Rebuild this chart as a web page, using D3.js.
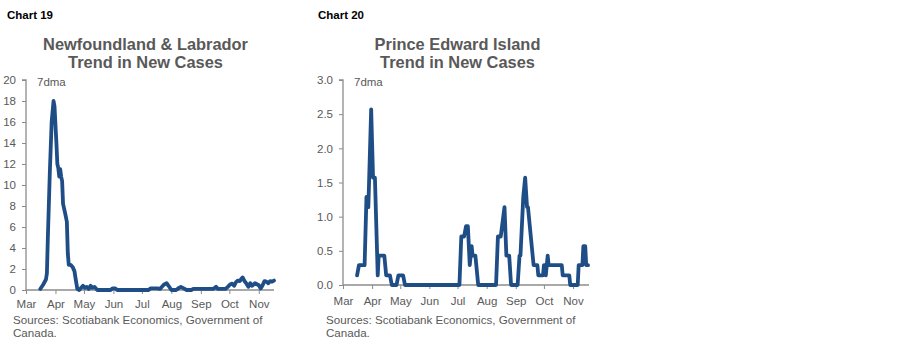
<!DOCTYPE html>
<html>
<head>
<meta charset="utf-8">
<script src="https://cdn.jsdelivr.net/npm/d3@7/dist/d3.min.js"></script>
<style>
  html, body { margin: 0; padding: 0; background: #fff; }
  svg { display: block; font-family: "Liberation Sans", Arial, sans-serif; }
</style>
</head>
<body>
<svg id="chart" width="900" height="348"></svg>
<script>
// ---------- DATA ----------
const monthLabels = ["Mar", "Apr", "May", "Jun", "Jul", "Aug", "Sep", "Oct", "Nov"];
const monthStarts = ["2020-03-01", "2020-04-01", "2020-05-01", "2020-06-01", "2020-07-01",
                     "2020-08-01", "2020-09-01", "2020-10-01", "2020-11-01"];

const nlYTicks = [0, 2, 4, 6, 8, 10, 12, 14, 16, 18, 20];
const peiYTicks = [0, 0.5, 1.0, 1.5, 2.0, 2.5, 3.0];

// Newfoundland & Labrador, 7-day moving average of new cases
const nlDates = [
  "2020-03-16","2020-03-19","2020-03-22","2020-03-23","2020-03-24","2020-03-26","2020-03-28",
  "2020-03-30","2020-03-31","2020-04-02","2020-04-03","2020-04-04","2020-04-05","2020-04-06",
  "2020-04-07","2020-04-08","2020-04-09","2020-04-10","2020-04-11","2020-04-13","2020-04-14",
  "2020-04-15","2020-04-17","2020-04-19","2020-04-21","2020-04-22","2020-04-24","2020-04-26",
  "2020-04-30","2020-05-02","2020-05-04","2020-05-06","2020-05-08","2020-05-10","2020-05-12",
  "2020-05-15","2020-05-29","2020-05-31","2020-06-03","2020-06-05","2020-07-08","2020-07-10",
  "2020-07-17","2020-07-20","2020-07-24","2020-07-27","2020-07-29","2020-08-01","2020-08-06",
  "2020-08-09","2020-08-11","2020-08-14","2020-08-17","2020-08-22","2020-08-24","2020-09-14",
  "2020-09-17","2020-09-19","2020-09-27","2020-09-30","2020-10-02","2020-10-04","2020-10-06",
  "2020-10-08","2020-10-10","2020-10-12","2020-10-14","2020-10-15","2020-10-17","2020-10-19",
  "2020-10-21","2020-10-23","2020-10-25","2020-10-28","2020-10-30","2020-11-01","2020-11-03",
  "2020-11-05","2020-11-07","2020-11-09","2020-11-11","2020-11-13","2020-11-15","2020-11-17"
];
const nlValues = [
  0.1, 0.5, 1.0, 1.6, 5.0, 11.0, 16.0,
  18.0, 17.5, 14.0, 12.0, 11.6, 10.8, 11.5,
  10.8, 10.4, 8.2, 7.8, 7.4, 6.5, 3.5,
  2.4, 2.4, 2.2, 1.8, 1.2, 0.1, 0.0,
  0.4, 0.2, 0.3, 0.1, 0.4, 0.2, 0.3,
  0.0, 0.0, 0.15, 0.15, 0.0, 0.0, 0.15,
  0.15, 0.1, 0.5, 0.65, 0.4, 0.0, 0.0,
  0.2, 0.3, 0.15, 0.0, 0.0, 0.1, 0.1,
  0.3, 0.1, 0.1, 0.35, 0.55, 0.6, 0.4,
  0.75, 0.9, 0.85, 1.1, 1.2, 0.85, 0.6,
  0.3, 0.65, 0.4, 0.65, 0.55, 0.45, 0.15,
  0.45, 0.85, 0.8, 0.65, 0.85, 0.8, 0.9
];

// Prince Edward Island, 7-day moving average of new cases
const peiDates = [
  "2020-03-16","2020-03-18","2020-03-24","2020-03-26","2020-03-27","2020-03-28","2020-03-31",
  "2020-04-02","2020-04-04","2020-04-07","2020-04-08","2020-04-14","2020-04-16","2020-04-20",
  "2020-04-22","2020-04-27","2020-04-29","2020-05-04","2020-05-06","2020-07-03","2020-07-05",
  "2020-07-08","2020-07-10","2020-07-12","2020-07-14","2020-07-16","2020-07-17","2020-07-20",
  "2020-07-23","2020-08-11","2020-08-13","2020-08-16","2020-08-20","2020-08-22","2020-08-25",
  "2020-08-27","2020-09-03","2020-09-05","2020-09-06","2020-09-09","2020-09-11","2020-09-13",
  "2020-09-14","2020-09-18","2020-09-19","2020-09-20","2020-09-24","2020-09-25","2020-09-30",
  "2020-10-01","2020-10-02","2020-10-03","2020-10-05","2020-10-06","2020-10-20","2020-10-21",
  "2020-10-28","2020-10-29","2020-11-06","2020-11-07","2020-11-11","2020-11-12","2020-11-14",
  "2020-11-15","2020-11-17"
];
const peiValues = [
  0.14, 0.29, 0.29, 1.29, 1.14, 1.14, 2.57,
  1.57, 1.57, 0.14, 0.43, 0.43, 0.14, 0.14,
  0.0, 0.0, 0.14, 0.14, 0.0, 0.0, 0.71,
  0.71, 0.86, 0.86, 0.29, 0.57, 0.43, 0.43,
  0.0, 0.0, 0.71, 0.71, 1.14, 0.43, 0.43,
  0.0, 0.0, 0.43, 0.43, 1.29, 1.57, 1.14,
  1.14, 0.57, 0.43, 0.29, 0.29, 0.14, 0.14,
  0.29, 0.29, 0.14, 0.43, 0.29, 0.29, 0.14,
  0.14, 0.0, 0.0, 0.29, 0.29, 0.57, 0.57,
  0.29, 0.29
];

// ---------- DRAW ----------
const parse = d3.utcParse("%Y-%m-%d");
const svg = d3.select("#chart");
const LINE = "#1f4e87";
const GREY = "#595959";
const AXIS = "#8c8c8c";

function drawChart(cfg) {
  const g = svg.append("g");
  const x = d3.scaleUtc().domain([parse("2020-03-01"), parse(cfg.endDate)]).range([cfg.left, cfg.right]);
  const y = d3.scaleLinear().domain([0, cfg.yMax]).range([cfg.bottom, cfg.top]);

  // chart label
  g.append("text").attr("x", cfg.labelX).attr("y", 19)
    .attr("font-size", "11.5px").attr("font-weight", "bold").attr("fill", "#000")
    .text(cfg.label);

  // title
  cfg.title.forEach((t, i) => {
    g.append("text").attr("x", cfg.titleX).attr("y", 50 + i * 18)
      .attr("text-anchor", "middle").attr("font-size", "16.4px").attr("font-weight", "bold")
      .attr("fill", GREY).text(t);
  });

  // y axis
  const yAxis = d3.axisLeft(y).tickValues(cfg.yTicks).tickSize(4).tickPadding(6)
    .tickFormat(cfg.yFormat);
  const ya = g.append("g").attr("transform", `translate(${cfg.left},0)`).call(yAxis);
  ya.select(".domain").attr("stroke", AXIS).attr("stroke-width", 1.3).attr("d", `M-4,${cfg.top}H0V${cfg.bottom}`);
  ya.selectAll(".tick line").attr("stroke", AXIS).attr("stroke-width", 1);
  ya.selectAll(".tick text").attr("fill", GREY).attr("font-size", "11.5px")
    .attr("font-family", "'Liberation Sans', Arial, sans-serif");

  // x axis
  const monthDates = monthStarts.map(parse);
  const xAxis = d3.axisBottom(x).tickValues(monthDates).tickSize(4).tickPadding(cfg.xPad)
    .tickFormat((d, i) => monthLabels[i]);
  const xa = g.append("g").attr("transform", `translate(0,${cfg.bottom})`).call(xAxis);
  xa.select(".domain").attr("stroke", AXIS).attr("stroke-width", 1.6).attr("d", `M${cfg.left},0H${cfg.right}`);
  xa.selectAll(".tick line").attr("stroke", AXIS).attr("stroke-width", 1);
  xa.selectAll(".tick text").attr("fill", GREY).attr("font-size", "11.5px")
    .attr("font-family", "'Liberation Sans', Arial, sans-serif");

  // 7dma note
  g.append("text").attr("x", cfg.left + 11).attr("y", cfg.top + 6)
    .attr("font-size", "11.5px").attr("fill", GREY).text("7dma");

  // line
  const pts = cfg.dates.map((d, i) => ({ date: parse(d), value: cfg.values[i] }));
  const line = d3.line().x(d => x(d.date)).y(d => y(d.value));
  g.append("path").datum(pts).attr("d", line)
    .attr("fill", "none").attr("stroke", LINE).attr("stroke-width", 3.8)
    .attr("stroke-linejoin", "round").attr("stroke-linecap", "round");

  // sources
  ["Sources: Scotiabank Economics, Government of", "Canada."].forEach((t, i) => {
    g.append("text").attr("x", cfg.srcX).attr("y", 324 + i * 12.5)
      .attr("font-size", "11.6px").attr("fill", GREY).text(t);
  });
}

drawChart({
  label: "Chart 19", labelX: 7,
  title: ["Newfoundland & Labrador", "Trend in New Cases"], titleX: 145.5,
  left: 26, right: 274, top: 80, bottom: 290, endDate: "2020-11-17",
  yMax: 20, yTicks: nlYTicks, yFormat: d3.format("d"), xPad: 6,
  dates: nlDates, values: nlValues, srcX: 13
});

drawChart({
  label: "Chart 20", labelX: 318,
  title: ["Prince Edward Island", "Trend in New Cases"], titleX: 457.5,
  left: 343, right: 589, top: 80, bottom: 285, endDate: "2020-11-18",
  yMax: 3, yTicks: peiYTicks, yFormat: d3.format(".1f"), xPad: 8,
  dates: peiDates, values: peiValues, srcX: 326
});
</script>
</body>
</html>
